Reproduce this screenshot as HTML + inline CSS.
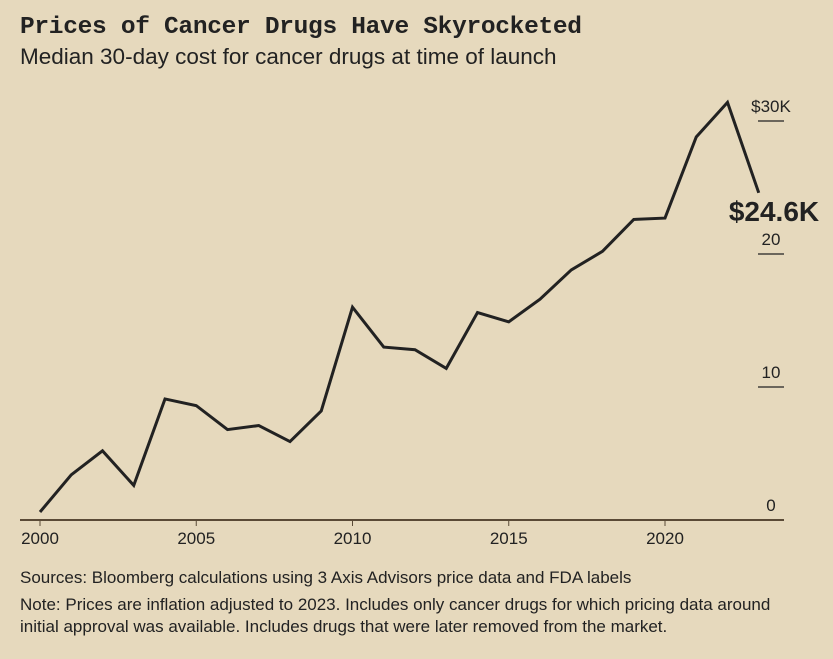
<!DOCTYPE html>
<html><head><meta charset="utf-8"><style>
body{margin:0;width:833px;height:659px;background:#e6d9bd;overflow:hidden;font-family:"Liberation Sans",sans-serif;color:#222}
.t{position:absolute;left:20px;top:14px;font-family:"Liberation Mono",monospace;font-weight:bold;font-size:24.5px;letter-spacing:-0.3px}
.s{position:absolute;left:20px;top:44px;font-size:22.5px}
.n{position:absolute;left:20px;font-size:17px;line-height:22px}
</style></head><body>
<div class="t">Prices of Cancer Drugs Have Skyrocketed</div>
<div class="s">Median 30-day cost for cancer drugs at time of launch</div>
<svg id="c" width="833" height="659" style="position:absolute;left:0;top:0"></svg>
<div class="n" style="top:567px">Sources: Bloomberg calculations using 3 Axis Advisors price data and FDA labels</div>
<div class="n" style="top:594px">Note: Prices are inflation adjusted to 2023. Includes only cancer drugs for which pricing data around<br>initial approval was available. Includes drugs that were later removed from the market.</div>
<script>
const years=[2000,2001,2002,2003,2004,2005,2006,2007,2008,2009,2010,2011,2012,2013,2014,2015,2016,2017,2018,2019,2020,2021,2022,2023];
const costs=[0.6,3.4,5.2,2.6,9.1,8.6,6.8,7.1,5.9,8.2,16.0,13.0,12.8,11.4,15.6,14.9,16.6,18.8,20.2,22.6,22.7,28.8,31.4,24.6];
const yTicks=[0,10,20,30];
const yTickLabels=["0","10","20","$30K"];
const xTicks=[2000,2005,2010,2015,2020];
const ns="http://www.w3.org/2000/svg",svg=document.getElementById('c');
const X=v=>40+(v-2000)*31.25, Y=v=>520-v*13.3;
function mk(t,a,txt){const e=document.createElementNS(ns,t);for(const k in a)e.setAttribute(k,a[k]);if(txt!=null)e.textContent=txt;svg.appendChild(e);return e;}
let e=mk('line',{x1:20,x2:784,y1:520,y2:520,stroke:'#5a4a36','stroke-width':2});


yTicks.forEach((v,i)=>{
 if(v>0){const l=mk('line',{x1:758,x2:784,y1:Y(v),y2:Y(v),stroke:'#222','stroke-width':1.3});
 
 }
 const t=mk('text',{x:771,y:Y(v)-9,'text-anchor':'middle','font-size':17,fill:'#222'},yTickLabels[i]);
 
 
});
xTicks.forEach(v=>{
 const l=mk('line',{x1:X(v),x2:X(v),y1:520,y2:526,stroke:'#5a4a36','stroke-width':1});
 
 
 const t=mk('text',{x:X(v),y:544,'text-anchor':'middle','font-size':17,fill:'#222'},String(v));
 
 
});
const p=mk('polyline',{points:years.map((y,i)=>X(y)+','+Y(costs[i])).join(' '),fill:'none',stroke:'#222','stroke-width':3,'stroke-linejoin':'miter'});


const last=costs[costs.length-1];
const lb=mk('text',{x:774,y:Y(last)+28,'text-anchor':'middle','font-size':28,'font-weight':'bold',fill:'#222'},'$'+last.toFixed(1)+'K');


</script>
</body></html>
